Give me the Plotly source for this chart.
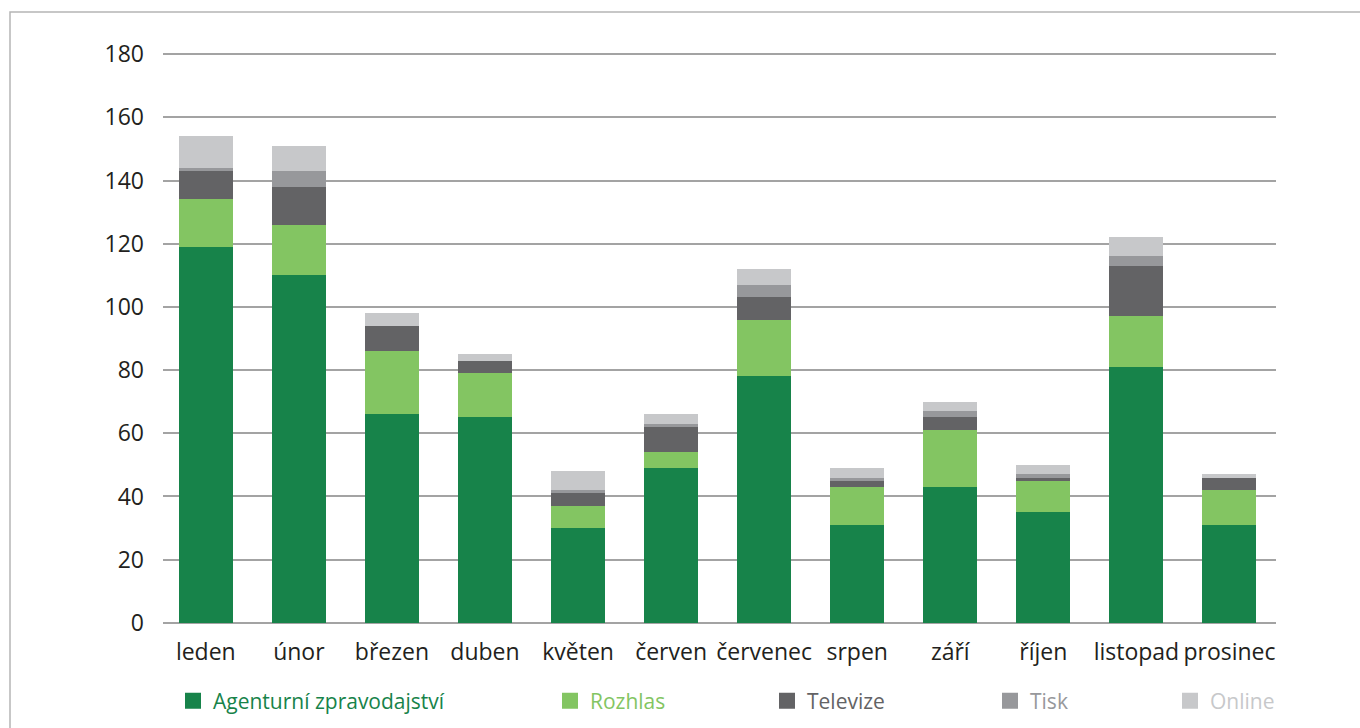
import plotly.graph_objects as go

months = ["leden", "únor", "březen", "duben", "květen", "červen", "červenec",
          "srpen", "září", "říjen", "listopad", "prosinec"]
agenturni = [119, 110, 66, 65, 30, 49, 78, 31, 43, 35, 81, 31]
rozhlas = [15, 16, 20, 14, 7, 5, 18, 12, 18, 10, 16, 11]
televize = [9, 12, 8, 4, 4, 8, 7, 2, 4, 1, 16, 4]
tisk = [1, 5, 0, 0, 1, 1, 4, 1, 2, 1, 3, 0]
online = [10, 8, 4, 2, 6, 3, 5, 3, 3, 3, 6, 1]
y_ticks = [0, 20, 40, 60, 80, 100, 120, 140, 160, 180]

series_names = ["Agenturní zpravodajství", "Rozhlas", "Televize", "Tisk", "Online"]
series_vals = [agenturni, rozhlas, televize, tisk, online]
colors = ["#17834a", "#83c562", "#636365", "#97989b", "#c7c8ca"]
legend_ids = ["legend", "legend2", "legend3", "legend4", "legend5"]

W, H = 1360, 728
L, R, T, B = 163, 84, 51, 102
pw = W - L - R
ph = H - T - B

def px2x(px):
    return (px - L) / pw

def py2y(py):
    return (H - B - py) / ph

fig = go.Figure()
for name, vals, col, lid in zip(series_names, series_vals, colors, legend_ids):
    fig.add_trace(go.Bar(x=months, y=vals, name=name, marker_color=col,
                         marker_line_width=0, showlegend=False))
    fig.add_trace(go.Scatter(x=[None], y=[None], mode="markers", name=name,
                             marker=dict(symbol="square", size=20, color=col),
                             showlegend=True, legend=lid))

legend_left_px = [173, 550, 767, 990, 1170]
layout_legends = {}
for lid, xpx, col in zip(legend_ids, legend_left_px, colors):
    layout_legends[lid] = dict(
        xref="container", yref="container",
        x=xpx / W, y=1 - 701 / H, xanchor="left", yanchor="middle",
        orientation="h", bgcolor="rgba(0,0,0,0)", borderwidth=0,
        font=dict(family="Open Sans, Noto Sans, sans-serif", size=21, color=col),
        itemsizing="trace",
    )

fig.update_layout(
    width=W, height=H,
    margin=dict(l=L, r=R, t=T, b=B, pad=0, autoexpand=False),
    barmode="stack",
    bargap=0.42,
    plot_bgcolor="white", paper_bgcolor="white",
    font=dict(family="Open Sans, Noto Sans, sans-serif", size=23, color="#231f20"),
    xaxis=dict(range=[-0.46, 11.5], showgrid=False, zeroline=False, showline=False,
               ticks="", ticklabelstandoff=10, tickfont=dict(size=23)),
    yaxis=dict(range=[-1, 181], tickvals=y_ticks,
               showgrid=True, gridcolor="#a3a3a3",
               gridwidth=1.7, zeroline=False, showline=False, ticks="",
               ticklabelstandoff=18, tickfont=dict(size=23)),
    shapes=[dict(type="rect", xref="paper", yref="paper",
                 x0=px2x(10), x1=px2x(W + 20), y0=py2y(H + 20), y1=py2y(12),
                 line=dict(color="#b5b5b5", width=1.5), fillcolor="rgba(0,0,0,0)",
                 layer="below")],
    **layout_legends,
)

fig.write_html("out.html", config={"displayModeBar": False},
               post_script="document.body.style.margin='0';document.body.style.overflow='hidden';")
